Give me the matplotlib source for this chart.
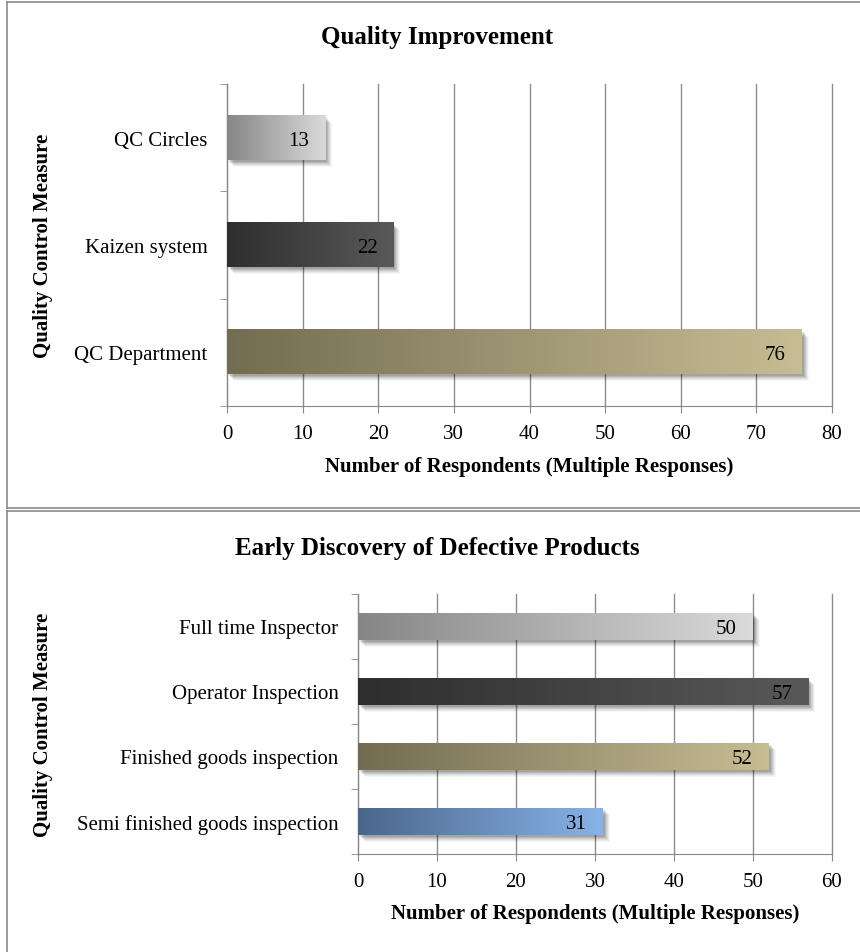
import numpy as np
import matplotlib
matplotlib.use("Agg")
import matplotlib.pyplot as plt
import matplotlib.transforms as mtransforms
from matplotlib.colors import LinearSegmentedColormap
from matplotlib.lines import Line2D
from matplotlib.patches import Rectangle

plt.rcParams['font.family'] = ['Liberation Serif', 'DejaVu Serif']

# data (bottom to top, as drawn)
qi_labels = ["QC Department", "Kaizen system", "QC Circles"]
qi_values = [76, 22, 13]

ed_labels = ["Semi finished goods inspection", "Finished goods inspection",
             "Operator Inspection", "Full time Inspector"]
ed_values = [31, 52, 57, 50]

gray = ("#868686", "#dadada")
dark = ("#2e2e2e", "#595959")
olive = ("#736c52", "#c7bd93")
blue = ("#4a668c", "#88b3e8")

W, H = 860, 953


def px(x, y):
    return x / W, 1 - y / H


def gradient_bar(ax, y, v, h, c0, c1):
    fig = ax.figure
    # soft drop shadow
    for off, a in [(2, 0.10), (3, 0.09), (4, 0.08), (5, 0.06), (6, 0.05), (7, 0.03)]:
        tr = mtransforms.offset_copy(ax.transData, fig=fig, x=off, y=-off, units='dots')
        ax.add_patch(Rectangle((0, y - h / 2), v, h, transform=tr, facecolor='black',
                               alpha=a, lw=0, zorder=2))
    cmap = LinearSegmentedColormap.from_list("g", [c0, c1])
    ax.imshow(np.linspace(0, 1, 256).reshape(1, -1), cmap=cmap,
              extent=[0, v, y - h / 2, y + h / 2], aspect='auto', zorder=3,
              interpolation='bilinear')
    ax.annotate(str(v), xy=(v, y), xytext=(-16, 0), textcoords='offset pixels',
                ha='right', va='center_baseline', fontsize=15, zorder=4)


def draw_panel(ax, labels, values, colors, xmax, xlabel, ylab_x):
    n = len(labels)
    for i in range(n):
        gradient_bar(ax, i, values[i], 0.41, colors[i][0], colors[i][1])
    ax.set_xlim(0, xmax)
    ax.set_ylim(-0.5, n - 0.5)
    ax.set_xticks(range(0, xmax + 1, 10))
    ax.set_yticks(range(n))
    ax.set_yticklabels(labels)
    ax.set_yticks(np.arange(-0.5, n), minor=True)
    ax.tick_params(axis='y', which='major', length=0, pad=14, labelsize=15)
    ax.tick_params(axis='y', which='minor', length=5, color='#888888')
    ax.tick_params(axis='x', length=5, color='#888888', labelsize=15, pad=8)
    ax.grid(axis='x', color='#8c8c8c', lw=1)
    for gl in ax.get_xgridlines():
        gl.set_clip_on(False)
    ax.set_axisbelow(True)
    for s in ['top', 'right']:
        ax.spines[s].set_visible(False)
    for s in ['left', 'bottom']:
        ax.spines[s].set_color('#888888')
    ax.set_xlabel(xlabel, fontsize=15, fontweight='bold')
    ax.xaxis.set_label_coords(0.5, -0.155)
    ax.set_ylabel("Quality Control Measure", fontsize=15, fontweight='bold')
    ax.yaxis.set_label_coords(ylab_x, 0.5)


fig = plt.figure(figsize=(W / 100, H / 100), dpi=100)

ax1 = fig.add_axes([227 / W, 1 - 407 / H, 605 / W, 322 / H])
draw_panel(ax1, qi_labels, qi_values, [olive, dark, gray], 80,
           "Number of Respondents (Multiple Responses)", (53 - 227) / 605)

ax2 = fig.add_axes([358 / W, 1 - 855 / H, 474 / W, 260 / H])
draw_panel(ax2, ed_labels, ed_values, [blue, olive, dark, gray], 60,
           "Number of Respondents (Multiple Responses)", (53 - 358) / 474)
ax2.xaxis.set_label_coords(0.5, -0.19)

fig.text(*px(437, 38), "Quality Improvement", ha='center', va='center',
         fontsize=18, fontweight='bold')
fig.text(*px(437, 548), "Early Discovery of Defective Products", ha='center', va='center',
         fontsize=18, fontweight='bold')

# panel frames
frame = [((7, 2.5), (860, 2.5)), ((7, 2.5), (7, 509)), ((7, 509), (860, 509)),
         ((7, 512), (860, 512)), ((7, 512), (7, 953))]
for a, b in frame:
    (x0, y0), (x1, y1) = px(*a), px(*b)
    fig.add_artist(Line2D([x0, x1], [y0, y1], transform=fig.transFigure,
                          color='#8a8a8a', lw=1.2))

fig.savefig("out.png", dpi=100)
